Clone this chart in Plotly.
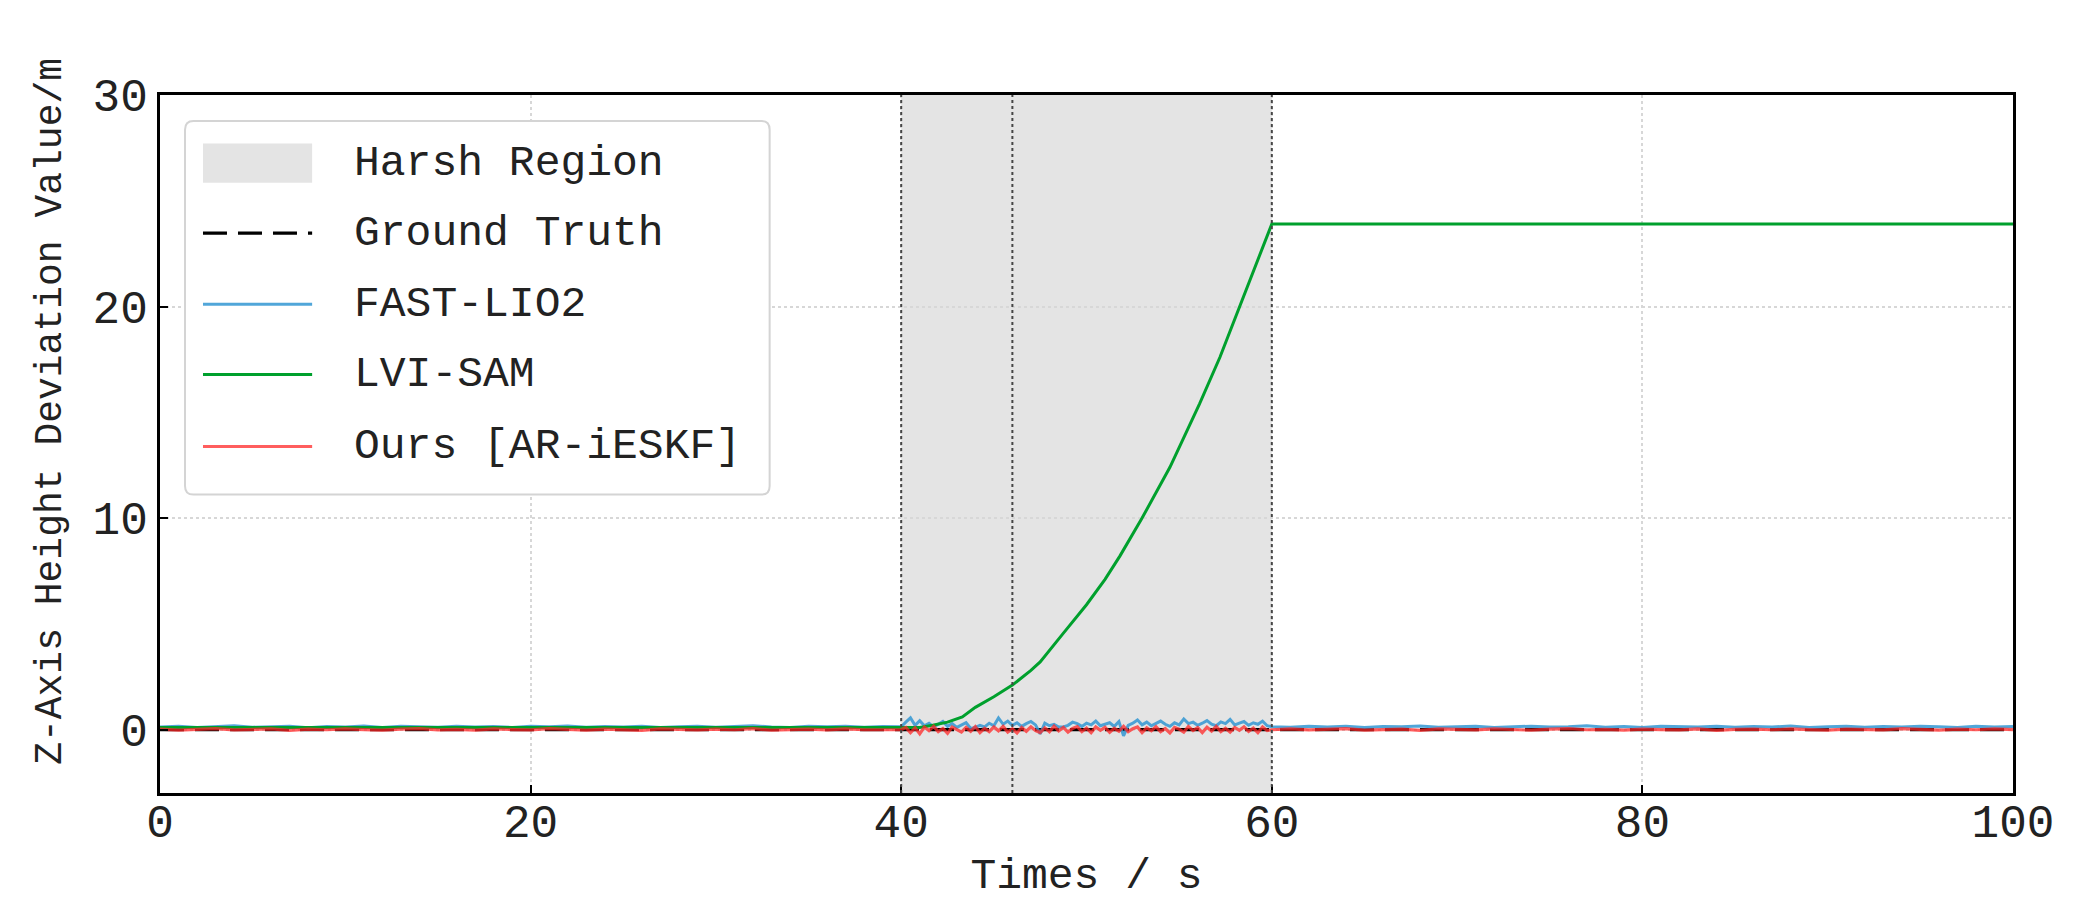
import numpy as np
import plotly.graph_objects as go

# ---------------- data ----------------
x_ticks = [0, 20, 40, 60, 80, 100]
y_ticks = [0, 10, 20, 30]
x_range = [0, 100]
y_range = [-3, 30]

harsh_start = 40
harsh_end = 60
marker_times = [40, 46, 60]

# Ground truth
gt_t = [0, 100]
gt_v = [0.0, 0.0]

# FAST-LIO2 (before harsh region: 0..40 s step 1, harsh: 40.25..59.75 step 0.25, after: 60..100 step 1)
fast_v_before = [0.12, 0.15, 0.10, 0.14, 0.18, 0.11, 0.13, 0.16, 0.09, 0.14,
                 0.12, 0.17, 0.10, 0.15, 0.13, 0.11, 0.16, 0.12, 0.14, 0.10,
                 0.15, 0.13, 0.17, 0.11, 0.14, 0.12, 0.16, 0.10, 0.13, 0.15,
                 0.11, 0.14, 0.18, 0.12, 0.10, 0.15, 0.13, 0.16, 0.11, 0.14,
                 0.13]
fast_v_harsh = [0.35, 0.55, 0.20, 0.42, 0.18, 0.30, 0.12, 0.25, 0.38, 0.15,
                0.28, 0.10, 0.22, 0.33, 0.05, 0.10, 0.20, 0.12, 0.30, 0.18,
                0.55, 0.25, 0.40, 0.20, 0.32, 0.15, 0.28, 0.38, 0.22, -0.20,
                0.30, 0.18, 0.25, 0.12, 0.12, 0.20, 0.35, 0.28, 0.15, 0.30,
                0.22, 0.40, 0.18, 0.26, 0.32, 0.15, 0.38, -0.30, 0.20, 0.30,
                0.45, 0.22, 0.35, 0.18, 0.28, 0.40, 0.25, 0.15, 0.32, 0.22,
                0.50, 0.28, 0.35, 0.20, 0.30, 0.42, 0.25, 0.18, 0.36, 0.28,
                0.48, 0.22, 0.30, 0.38, 0.20, 0.32, 0.25, 0.40, 0.18]
fast_v_after = [0.13, 0.11, 0.15, 0.12, 0.16, 0.10, 0.14, 0.13, 0.17, 0.11,
                0.12, 0.15, 0.10, 0.14, 0.16, 0.12, 0.13, 0.18, 0.11, 0.14,
                0.10, 0.15, 0.13, 0.12, 0.16, 0.11, 0.14, 0.12, 0.17, 0.10,
                0.13, 0.15, 0.11, 0.14, 0.12, 0.16, 0.13, 0.10, 0.15, 0.12,
                0.14]

# LVI-SAM
lvi_t = [0, 41.0, 41.7, 42.5, 43.3, 44.0, 45.0, 46.0, 47.0, 47.5, 48.7, 50.0,
         51.0, 51.8, 53.0, 54.5, 55.3, 56.1, 57.2, 58.4, 59.3, 60.0, 100]
lvi_v = [0.1, 0.1, 0.2, 0.35, 0.6, 1.05, 1.55, 2.1, 2.8, 3.2, 4.5, 5.9,
         7.1, 8.2, 10.0, 12.4, 13.9, 15.4, 17.6, 20.3, 22.3, 23.9, 23.9]

# Ours [AR-iESKF]
ours_v_before = [0.02, -0.03, 0.01, 0.04, -0.02, 0.00, 0.03, -0.04, 0.02, -0.01,
                 0.03, 0.00, -0.03, 0.02, 0.04, -0.02, 0.01, -0.03, 0.03, 0.00,
                 -0.02, 0.04, 0.01, -0.03, 0.02, 0.00, -0.04, 0.03, 0.01, -0.02,
                 0.02, -0.01, 0.04, -0.03, 0.00, 0.02, -0.02, 0.03, -0.01, 0.01,
                 0.00]
ours_v_harsh = [0.10, -0.15, 0.08, -0.20, 0.12, -0.05, 0.15, -0.10, 0.05, -0.18,
                0.12, 0.02, -0.12, 0.10, -0.08, 0.14, -0.15, 0.06, -0.10, 0.12,
                -0.06, 0.15, -0.12, 0.04, -0.16, 0.10, -0.08, 0.13, -0.05, -0.14,
                0.08, -0.10, 0.16, -0.06, 0.10, -0.12, 0.05, 0.14, -0.10, 0.07,
                -0.15, 0.12, -0.04, 0.10, -0.13, 0.06, -0.08, 0.15, -0.10, 0.04,
                0.12, -0.14, 0.08, -0.06, 0.13, -0.10, 0.05, -0.16, 0.10, 0.02,
                -0.12, 0.14, -0.05, 0.09, -0.14, 0.11, -0.07, 0.15, -0.10, 0.06,
                -0.12, 0.10, -0.04, 0.13, -0.09, 0.07, -0.15, 0.12, -0.05]
ours_v_after = [-0.01, 0.03, -0.02, 0.01, 0.04, -0.03, 0.00, 0.02, -0.04, 0.03,
                0.01, -0.02, 0.03, 0.00, -0.03, 0.02, 0.04, -0.01, 0.01, -0.03,
                0.02, 0.00, -0.02, 0.03, -0.04, 0.01, 0.02, -0.01, 0.03, 0.00,
                -0.03, 0.02, 0.01, -0.02, 0.04, 0.00, -0.03, 0.02, -0.01, 0.03,
                0.00]

labels = ["Harsh Region", "Ground Truth", "FAST-LIO2", "LVI-SAM", "Ours [AR-iESKF]"]
x_title = "Times / s"
y_title = "Z-Axis Height Deviation Value/m"

# ---------------- styles ----------------
FONT = "Liberation Mono"
FS = 43
TICK_FS = 46
YTITLE_FS = 38
TXT = "#222"
REGION_FILL = "rgb(228,228,228)"
GT_LINE = dict(color="black", width=3.2, dash="24px,11px")
FAST_LINE = dict(color="rgba(50,150,210,0.85)", width=3)
LVI_LINE = dict(color="rgb(0,160,45)", width=3)
OURS_LINE = dict(color="rgba(255,40,40,0.75)", width=3.2)


def build_times(before, harsh, after):
    tb = np.linspace(0, 40, len(before))
    th = np.linspace(40.25, 59.75, len(harsh))
    ta = np.linspace(60, 100, len(after))
    return np.concatenate([tb, th, ta]), np.array(before + harsh + after)


fast_t, fast_v = build_times(fast_v_before, fast_v_harsh, fast_v_after)
ours_t, ours_v = build_times(ours_v_before, ours_v_harsh, ours_v_after)

fig = go.Figure()
fig.add_trace(go.Scatter(x=gt_t, y=gt_v, mode="lines", name=labels[1],
                         line=GT_LINE, showlegend=False))
fig.add_trace(go.Scatter(x=fast_t, y=fast_v, mode="lines", name=labels[2],
                         line=FAST_LINE, showlegend=False))
fig.add_trace(go.Scatter(x=lvi_t, y=lvi_v, mode="lines", name=labels[3],
                         line=LVI_LINE, showlegend=False))
fig.add_trace(go.Scatter(x=ours_t, y=ours_v, mode="lines", name=labels[4],
                         line=OURS_LINE, showlegend=False))

# shaded harsh region (below grid) and dotted markers
fig.add_vrect(x0=harsh_start, x1=harsh_end, fillcolor=REGION_FILL,
              line_width=0, layer="below")
for mt in marker_times:
    fig.add_vline(x=mt, line=dict(color="rgb(70,70,70)", width=2, dash="dot"),
                  layer="above")

# ---------------- custom legend (paper coordinates) ----------------
bx0, bx1, by0, by1 = 0.0135, 0.329, 0.4275, 0.9627
rx, ry = 0.0045, 0.0125
box_path = (f"M {bx0+rx},{by0} L {bx1-rx},{by0} Q {bx1},{by0} {bx1},{by0+ry} "
            f"L {bx1},{by1-ry} Q {bx1},{by1} {bx1-rx},{by1} "
            f"L {bx0+rx},{by1} Q {bx0},{by1} {bx0},{by1-ry} "
            f"L {bx0},{by0+ry} Q {bx0},{by0} {bx0+rx},{by0} Z")
fig.add_shape(type="path", path=box_path, xref="paper", yref="paper",
              fillcolor="white", line=dict(color="rgb(212,212,212)", width=2),
              layer="above")

sw_x0, sw_x1, txt_x = 0.0232, 0.0821, 0.1035
row_y = [0.9024, 0.8020, 0.7001, 0.5997, 0.4964]
fig.add_shape(type="rect", xref="paper", yref="paper",
              x0=sw_x0, x1=sw_x1, y0=row_y[0] - 0.028, y1=row_y[0] + 0.028,
              fillcolor=REGION_FILL, line_width=0, layer="above")
for line_style, yy in zip([GT_LINE, FAST_LINE, LVI_LINE, OURS_LINE], row_y[1:]):
    fig.add_shape(type="line", xref="paper", yref="paper",
                  x0=sw_x0, x1=sw_x1, y0=yy, y1=yy, line=line_style, layer="above")
for lab, yy in zip(labels, row_y):
    fig.add_annotation(x=txt_x, y=yy, xref="paper", yref="paper", text=lab,
                       showarrow=False, xanchor="left", yanchor="middle",
                       font=dict(family=FONT, size=FS, color=TXT))

# y-axis title as rotated annotation
fig.add_annotation(x=-0.059, y=0.547, xref="paper", yref="paper", text=y_title,
                   textangle=-90, showarrow=False, xanchor="center", yanchor="middle",
                   font=dict(family=FONT, size=YTITLE_FS, color=TXT))

# ---------------- axes ----------------
axis_common = dict(
    showline=True, linecolor="black", linewidth=3, mirror=True,
    ticks="inside", ticklen=8, tickwidth=2, tickcolor="black",
    showgrid=True, gridcolor="rgb(215,215,215)", griddash="dot", gridwidth=1.5,
    zeroline=False,
    tickfont=dict(family=FONT, size=TICK_FS, color=TXT),
)

fig.update_xaxes(range=x_range, tickvals=x_ticks, **axis_common,
                 title=dict(text=x_title, font=dict(family=FONT, size=FS, color=TXT),
                            standoff=8))
fig.update_yaxes(range=y_range, tickvals=y_ticks, **axis_common)
try:
    fig.update_xaxes(ticklabelstandoff=-14)
except Exception:
    pass

fig.update_layout(
    width=2073, height=921,
    margin=dict(l=152, r=68, t=87, b=136),
    paper_bgcolor="white", plot_bgcolor="white",
    showlegend=False,
)

fig.write_html("out.html")
